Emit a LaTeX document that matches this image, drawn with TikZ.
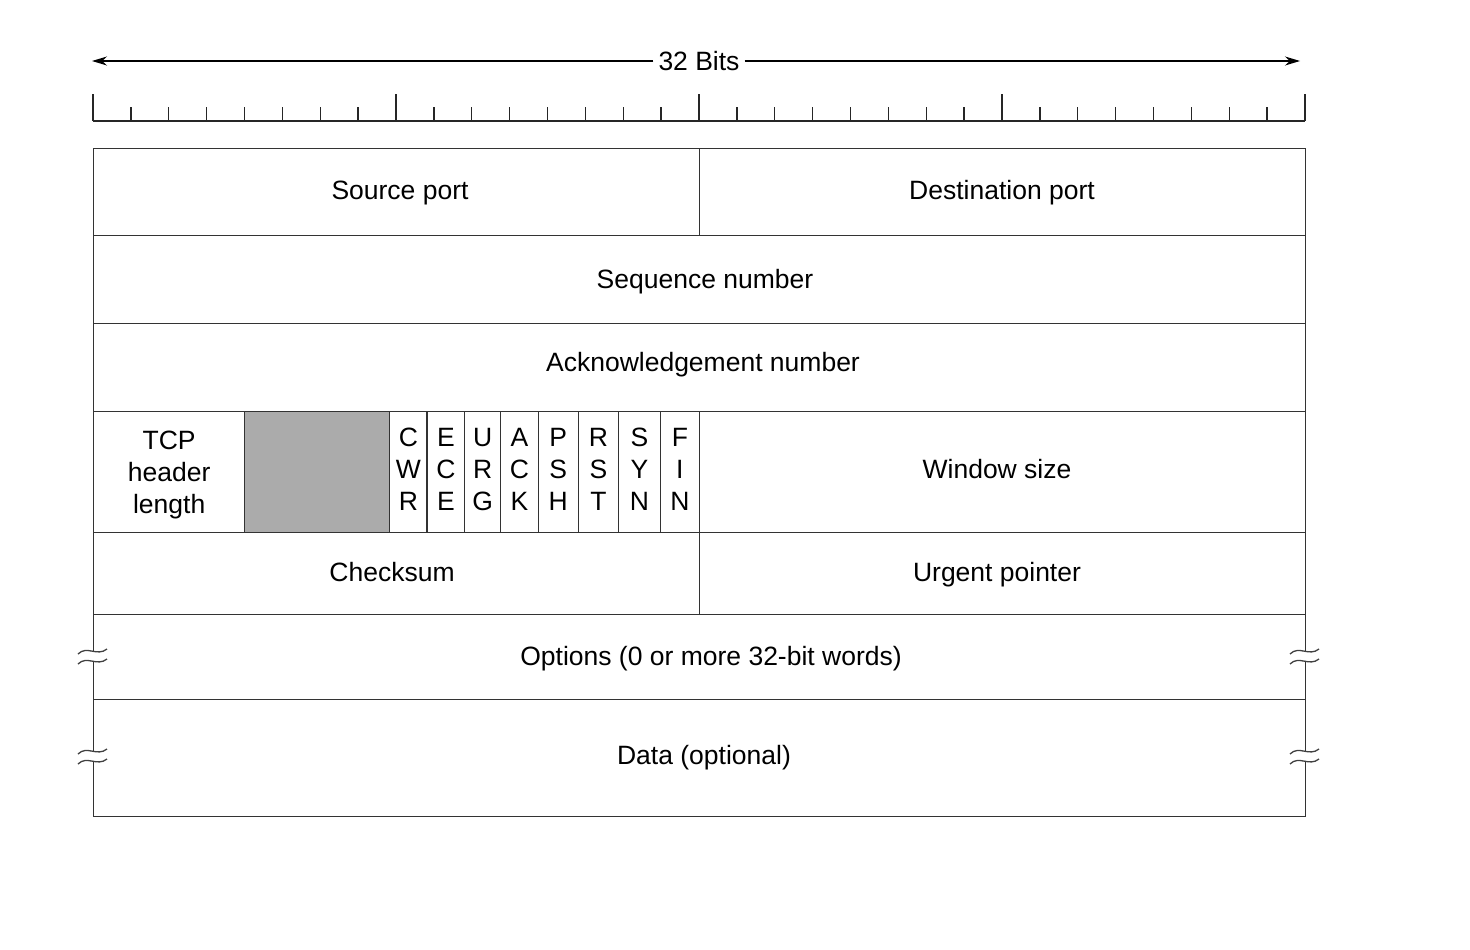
\documentclass[tikz,border=0pt]{standalone}
\usepackage{fontspec}
\setmainfont{Liberation Sans}
\usetikzlibrary{arrows.meta}
\newcommand{\fldfont}{\fontsize{26.5}{32}\selectfont}
\begin{document}
\begin{tikzpicture}[x=1pt,y=-1pt,
  fld/.style={draw=black!80, line width=1.3pt, inner sep=0pt, anchor=north west},
  flagbox/.style={fld, minimum height=121pt, font=\fldfont, align=center},
  txt/.style={font=\fldfont, anchor=base, inner sep=0pt},
  rule/.style={black!85, line width=1.4pt},
  brk/.style={black!75, line width=1.3pt},
  dimarrow/.style={black, line width=1.3pt, -{Stealth[length=15pt,width=9pt]}}]
\useasboundingbox (0,0) rectangle (1470,950);
% 32 bits dimension line
\coordinate (al) at (92,61);
\coordinate (ar) at (1300,61);
\node[font=\fldfont, inner xsep=5pt, inner ysep=2pt] (bits) at (699,61) {32 Bits};
\draw[dimarrow] (bits.west) -- (al);
\draw[dimarrow] (bits.east) -- (ar);
% ruler
\draw[rule] (93,121) -- (1305,121);
\foreach \i in {0,...,32}{
  \pgfmathsetmacro{\tx}{93+\i*37.875}
  \pgfmathtruncatemacro{\m}{mod(\i,8)}
  \ifnum\m=0
    \draw[rule] (\tx,121) -- (\tx,94);
  \else
    \draw[rule] (\tx,121) -- (\tx,107);
  \fi
}
% rows
\node[fld, minimum width=606pt, minimum height=87pt] (src) at (93,148) {};
\node[fld, minimum width=606pt, minimum height=87pt] (dst) at (699,148) {};
\node[fld, minimum width=1212pt, minimum height=88pt] (seq) at (93,235) {};
\node[fld, minimum width=1212pt, minimum height=88pt] (ack) at (93,323) {};
\node[flagbox, minimum width=151pt, text depth=0pt] (thl) at (93,411) {TCP\\header\\length};
\node[flagbox, minimum width=145pt, fill=black!33] (res) at (244,411) {};
\node[flagbox, minimum width=37.4pt, text depth=6pt] (cwr) at (389,411) {C\\W\\R};
\node[flagbox, minimum width=37.6pt, text depth=6pt] (ece) at (426.4,411) {E\\C\\E};
\node[flagbox, minimum width=36pt, text depth=6pt] (urg) at (464,411) {U\\R\\G};
\node[flagbox, minimum width=37.5pt, text depth=6pt] (ackf) at (500,411) {A\\C\\K};
\node[flagbox, minimum width=40pt, text depth=6pt] (psh) at (537.5,411) {P\\S\\H};
\node[flagbox, minimum width=40.5pt, text depth=6pt] (rst) at (577.5,411) {R\\S\\T};
\node[flagbox, minimum width=41.5pt, text depth=6pt] (syn) at (618,411) {S\\Y\\N};
\node[flagbox, minimum width=39.5pt, text depth=6pt] (fin) at (659.5,411) {F\\I\\N};
\node[fld, minimum width=606pt, minimum height=121pt] (win) at (699,411) {};
\node[fld, minimum width=606pt, minimum height=82pt] (chk) at (93,532) {};
\node[fld, minimum width=606pt, minimum height=82pt] (urp) at (699,532) {};
\node[fld, minimum width=1212pt, minimum height=85pt] (opt) at (93,614) {};
\node[fld, minimum width=1212pt, minimum height=117pt] (dat) at (93,699) {};
% labels
\node[txt] (tsrc) at (400,199) {Source port};
\node[txt] (tdst) at (1002,199) {Destination port};
\node[txt] (tseq) at (705,288) {Sequence number};
\node[txt] (tack) at (703,371) {Acknowledgement number};
\node[txt] (twin) at (997,478) {Window size};
\node[txt] (tchk) at (392,581) {Checksum};
\node[txt] (turp) at (997,581) {Urgent pointer};
\node[txt] (topt) at (711,665) {Options (0 or more 32-bit words)};
\node[txt] (tdat) at (704,764) {Data (optional)};
% break marks
\foreach \bx/\by in {93/651, 93/751, 1305/651, 1305/751}{
  \fill[white] (\bx-4,\by) rectangle (\bx+4,\by+10);
  \draw[brk] (\bx-15,\by+3) .. controls (\bx-6,\by-6) and (\bx+4,\by+6) .. (\bx+14,\by-2);
  \draw[brk] (\bx-15,\by+13) .. controls (\bx-6,\by+4) and (\bx+4,\by+16) .. (\bx+14,\by+8);
}
\end{tikzpicture}
\end{document}
